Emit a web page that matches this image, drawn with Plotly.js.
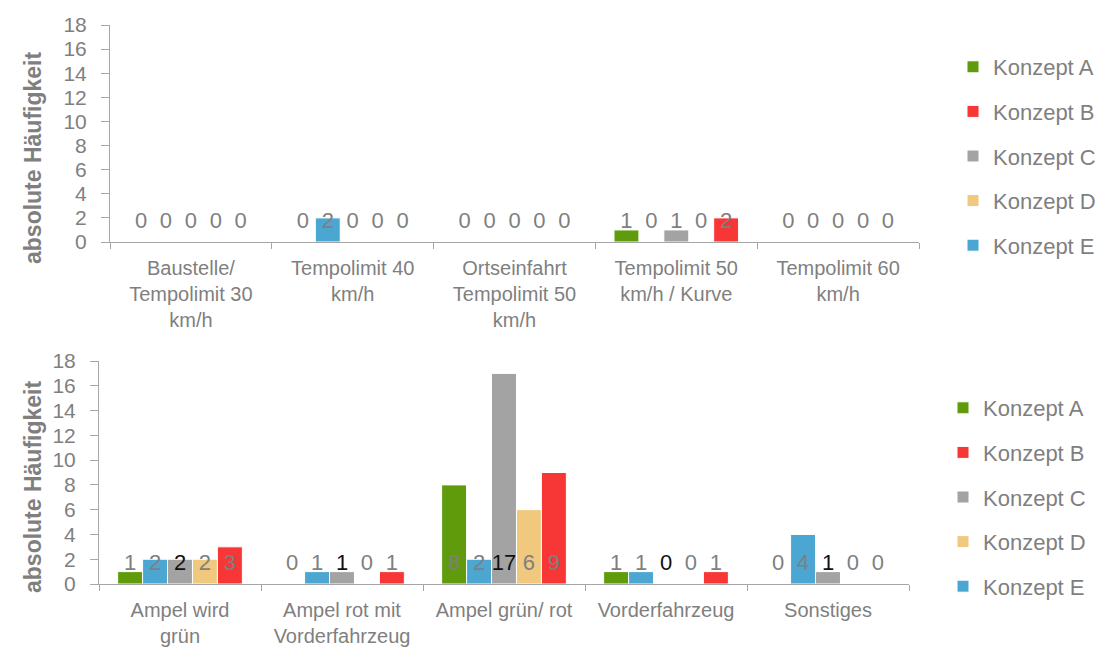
<!DOCTYPE html>
<html>
<head>
<meta charset="utf-8">
<script src="https://cdn.plot.ly/plotly-3.0.1.min.js"></script>
<style>
  html, body { margin: 0; padding: 0; background: #fff; }
  #chart { width: 1108px; height: 648px; }
</style>
</head>
<body>
<div id="chart"></div>
<script>
// Situations, first panel (speed limits)
const topCategories = [
  'Baustelle/<br>Tempolimit 30<br>km/h',
  'Tempolimit 40<br>km/h',
  'Ortseinfahrt<br>Tempolimit 50<br>km/h',
  'Tempolimit 50<br>km/h / Kurve',
  'Tempolimit 60<br>km/h'
];
// Situations, second panel (traffic lights and others)
const bottomCategories = [
  'Ampel wird<br>grün',
  'Ampel rot mit<br>Vorderfahrzeug',
  'Ampel grün/ rot',
  'Vorderfahrzeug',
  'Sonstiges'
];

// Absolute frequencies per concept
const topA = [0, 0, 0, 1, 0];
const topB = [0, 0, 0, 2, 0];
const topC = [0, 0, 0, 1, 0];
const topD = [0, 0, 0, 0, 0];
const topE = [0, 2, 0, 0, 0];

const bottomA = [1, 0, 8, 1, 0];
const bottomB = [3, 1, 9, 1, 0];
const bottomC = [2, 1, 17, 0, 1];
const bottomD = [2, 0, 6, 0, 0];
const bottomE = [2, 1, 2, 1, 4];

const conceptNames = ['Konzept A', 'Konzept B', 'Konzept C', 'Konzept D', 'Konzept E'];
const yTickValues = [0, 2, 4, 6, 8, 10, 12, 14, 16, 18];

// Styling
const colors = {
  'Konzept A': '#5f9b0b',
  'Konzept B': '#f73636',
  'Konzept C': '#a3a3a3',
  'Konzept D': '#f0c87e',
  'Konzept E': '#4ba6d1'
};
const FONT = 'Liberation Sans, Arial, sans-serif';
const GREY_TEXT = '#7f7f7f';
const AXIS_GREY = '#a6a6a6';
// Labels sit at the base of each bar slot: an invisible bar of this height carries them.
const LABEL_DEPTH = 3.5;

// Bar order inside each group: A, E, C, D, B; legend order A..E
const barOrder = ['Konzept A', 'Konzept E', 'Konzept C', 'Konzept D', 'Konzept B'];

const panels = [
  {
    x: 'x', y: 'y', legend: 'legend', cats: topCategories,
    values: {'Konzept A': topA, 'Konzept B': topB, 'Konzept C': topC, 'Konzept D': topD, 'Konzept E': topE},
    labelColor: {'Konzept C': GREY_TEXT}
  },
  {
    x: 'x2', y: 'y2', legend: 'legend2', cats: bottomCategories,
    values: {'Konzept A': bottomA, 'Konzept B': bottomB, 'Konzept C': bottomC, 'Konzept D': bottomD, 'Konzept E': bottomE},
    labelColor: {'Konzept C': '#111111'}
  }
];

const traces = [];
panels.forEach((p, pi) => {
  barOrder.forEach(name => {
    traces.push({
      type: 'bar',
      name: name,
      x: p.cats,
      y: p.values[name],
      xaxis: p.x, yaxis: p.y,
      legend: p.legend,
      legendgroup: name + pi,
      legendrank: conceptNames.indexOf(name) + 1,
      offsetgroup: 'g' + name,
      marker: {color: colors[name], line: {color: '#ffffff', width: 1}},
      hoverinfo: 'skip'
    });
  });
  // value labels, drawn on top of the bars
  barOrder.forEach(name => {
    const vals = p.values[name];
    traces.push({
      type: 'bar',
      name: name + ' Werte',
      x: p.cats,
      y: vals.map(() => LABEL_DEPTH),
      xaxis: p.x, yaxis: p.y,
      offsetgroup: 'g' + name,
      showlegend: false,
      marker: {color: 'rgba(0,0,0,0)', line: {width: 0}},
      text: vals.map(v => String(v)),
      textposition: 'inside',
      insidetextanchor: 'middle',
      constraintext: 'none',
      textangle: 0,
      textfont: {family: FONT, size: 22, color: p.labelColor[name] || GREY_TEXT},
      hoverinfo: 'skip'
    });
  });
});

const W = 1108, H = 648;
const xAxisBase = {
  type: 'category',
  showline: true, linecolor: AXIS_GREY, linewidth: 1,
  ticks: 'outside', tickson: 'boundaries', ticklen: 6, tickcolor: AXIS_GREY,
  ticklabelstandoff: 8,
  showgrid: false, zeroline: false,
  tickfont: {family: FONT, size: 20, color: GREY_TEXT},
  fixedrange: true
};
const yAxisBase = {
  range: [0, 18], tickvals: yTickValues,
  showline: true, linecolor: AXIS_GREY, linewidth: 1,
  ticks: 'outside', ticklen: 8, tickcolor: AXIS_GREY,
  ticklabelstandoff: 10,
  showgrid: false, zeroline: false,
  tickfont: {family: FONT, size: 21, color: GREY_TEXT},
  fixedrange: true
};
const legendBase = {
  font: {family: FONT, size: 22, color: GREY_TEXT},
  bgcolor: 'rgba(0,0,0,0)',
  traceorder: 'grouped',
  tracegroupgap: 13,
  itemwidth: 30,
  xanchor: 'left', yanchor: 'top'
};

const layout = {
  width: W, height: H,
  margin: {l: 0, r: 0, t: 0, b: 0},
  paper_bgcolor: '#ffffff', plot_bgcolor: '#ffffff',
  barmode: 'group', bargap: 0.23, bargroupgap: 0,
  hovermode: false,
  showlegend: true,
  xaxis: Object.assign({}, xAxisBase, {domain: [110 / W, 919 / W], anchor: 'y'}),
  yaxis: Object.assign({}, yAxisBase, {domain: [1 - 242 / H, 1 - 25 / H], anchor: 'x'}),
  xaxis2: Object.assign({}, xAxisBase, {domain: [99 / W, 909 / W], anchor: 'y2'}),
  yaxis2: Object.assign({}, yAxisBase, {domain: [1 - 584 / H, 1 - 361 / H], anchor: 'x2'}),
  legend: Object.assign({}, legendBase, {x: 953 / W, y: 1 - 46 / H}),
  legend2: Object.assign({}, legendBase, {x: 943 / W, y: 1 - 387 / H}),
  annotations: [
    {text: '<b>absolute Häufigkeit</b>', xref: 'paper', yref: 'paper', x: 33 / W, y: 1 - 158 / H,
     xanchor: 'center', yanchor: 'middle', textangle: -90, showarrow: false,
     font: {family: FONT, size: 23, color: GREY_TEXT}},
    {text: '<b>absolute Häufigkeit</b>', xref: 'paper', yref: 'paper', x: 33 / W, y: 1 - 487 / H,
     xanchor: 'center', yanchor: 'middle', textangle: -90, showarrow: false,
     font: {family: FONT, size: 23, color: GREY_TEXT}}
  ]
};

Plotly.newPlot('chart', traces, layout, {displayModeBar: false, staticPlot: true});
</script>
</body>
</html>
